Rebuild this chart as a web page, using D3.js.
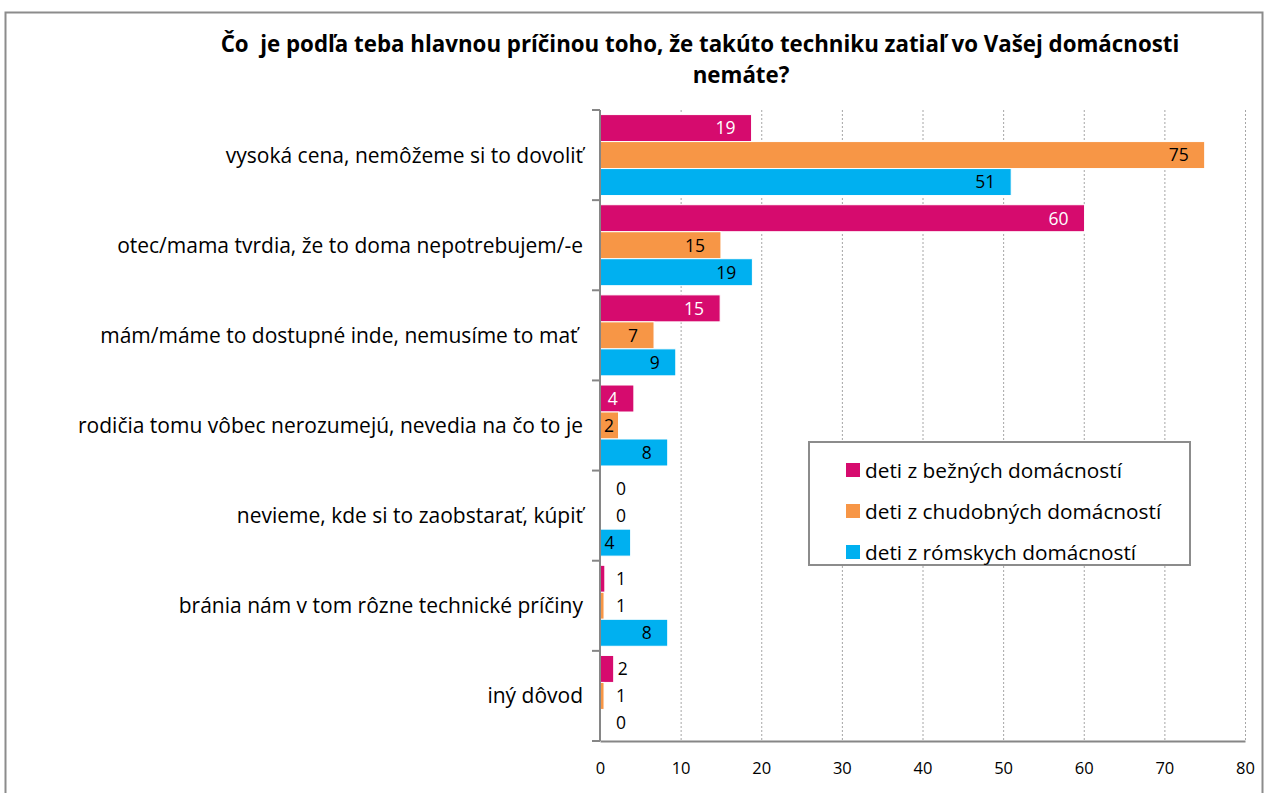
<!DOCTYPE html>
<html>
<head>
<meta charset="utf-8">
<script src="https://cdn.jsdelivr.net/npm/d3@7"></script>
<style>
  body { margin: 0; background: #fff; }
  svg text { font-family: "Open Sans", Lato, sans-serif; fill: #000; white-space: pre; }
</style>
</head>
<body>
<div id="chart"></div>
<script>
const categories = [
  "vysoká cena, nemôžeme si to dovoliť",
  "otec/mama tvrdia, že to doma nepotrebujem/-e",
  "mám/máme to dostupné inde, nemusíme to mať ",
  "rodičia tomu vôbec nerozumejú, nevedia na čo to je",
  "nevieme, kde si to zaobstarať, kúpiť",
  "bránia nám v tom rôzne technické príčiny",
  "iný dôvod"
];
const seriesNames = [
  "deti z bežných domácností",
  "deti z chudobných domácností",
  "deti z rómskych domácností"
];
const bezne    = [18.8, 60.1, 14.9, 4.2, 0, 0.6, 1.7];
const chudobne = [75.0, 15.0, 6.7, 2.3, 0, 0.5, 0.5];
const romske   = [51.0, 18.9, 9.4, 8.4, 3.8, 8.4, 0];
const xTicks = [0, 10, 20, 30, 40, 50, 60, 70, 80];

const colors = ["#d60b6e", "#f79646", "#00b0f0"];
const labelColors = ["#fff", "#000", "#000"];
const series = [bezne, chudobne, romske];

const width = 1269, height = 793;
const margin = { top: 110, right: 24, bottom: 52, left: 600 };

const svg = d3.select("#chart").append("svg")
  .attr("width", width)
  .attr("height", height);

// outer frame
svg.append("rect")
  .attr("x", 5.5).attr("y", 12.5)
  .attr("width", 1257).attr("height", 800)
  .attr("fill", "none")
  .attr("stroke", "#8c8c8c")
  .attr("stroke-width", 2);

// title
const title = svg.append("text")
  .attr("text-anchor", "middle")
  .attr("font-weight", "bold")
  .attr("font-size", 22.3);
title.append("tspan").attr("x", 700).attr("y", 52)
  .text("Čo  je podľa teba hlavnou príčinou toho, že takúto techniku zatiaľ vo Vašej domácnosti");
title.append("tspan").attr("x", 741).attr("y", 83).text("nemáte?");

const x = d3.scaleLinear()
  .domain([0, 80])
  .range([margin.left, width - margin.right]);

const y = d3.scaleBand()
  .domain(categories)
  .range([margin.top, height - margin.bottom])
  .padding(0);

const ySub = d3.scaleBand()
  .domain([0, 1, 2])
  .range([0, y.bandwidth()])
  .paddingInner(0)
  .paddingOuter(0.17);

// grid lines
svg.append("g")
  .selectAll("line")
  .data(xTicks.slice(1))
  .join("line")
  .attr("x1", d => x(d) + 0.5).attr("x2", d => x(d) + 0.5)
  .attr("y1", margin.top).attr("y2", height - margin.bottom)
  .attr("stroke", "#a6a6a6")
  .attr("stroke-width", 1)
  .attr("stroke-dasharray", "2,2");

// bars
const rows = categories.map((c, i) => series.map((s, k) => ({ cat: c, k: k, v: s[i] })));

const groups = svg.append("g")
  .selectAll("g")
  .data(rows)
  .join("g")
  .attr("transform", d => `translate(0,${y(d[0].cat)})`);

groups.selectAll("rect")
  .data(d => d.filter(e => e.v > 0))
  .join("rect")
  .attr("x", x(0))
  .attr("y", d => ySub(d.k))
  .attr("width", d => x(d.v) - x(0))
  .attr("height", ySub.bandwidth())
  .attr("fill", d => colors[d.k])
  .attr("stroke", "#fff")
  .attr("stroke-width", 1);

// value labels
groups.selectAll("text")
  .data(d => d)
  .join("text")
  .attr("font-size", 17.5)
  .attr("y", d => ySub(d.k) + ySub.bandwidth() / 2)
  .attr("dy", "0.36em")
  .each(function (d) {
    const t = d3.select(this);
    const w = x(d.v) - x(0);
    t.text(Math.round(d.v));
    if (w < 16) {
      t.attr("text-anchor", "start")
        .attr("x", Math.max(x(d.v) + 4, x(0) + 16))
        .style("fill", "#000");
    } else {
      const tw = this.getComputedTextLength();
      t.attr("text-anchor", "end")
        .attr("x", Math.max(x(d.v) - 16, x(0) + 4 + tw))
        .style("fill", labelColors[d.k]);
    }
  });

// y axis
const yAxis = svg.append("g")
  .attr("transform", `translate(${margin.left},0)`);
yAxis.append("line")
  .attr("x1", 0).attr("x2", 0)
  .attr("y1", margin.top).attr("y2", height - margin.bottom)
  .attr("stroke", "#868686").attr("stroke-width", 2);
yAxis.selectAll("line.tick")
  .data(d3.range(categories.length + 1))
  .join("line")
  .attr("class", "tick")
  .attr("x1", -8).attr("x2", 0)
  .attr("y1", i => margin.top + i * y.step())
  .attr("y2", i => margin.top + i * y.step())
  .attr("stroke", "#868686").attr("stroke-width", 2);
yAxis.selectAll("text")
  .data(categories)
  .join("text")
  .attr("x", -17)
  .attr("y", d => y(d) + y.bandwidth() / 2)
  .attr("dy", "0.36em")
  .attr("text-anchor", "end")
  .attr("font-size", 21)
  .text(d => d);

// x axis
const xAxis = svg.append("g")
  .attr("transform", `translate(0,${height - margin.bottom})`)
  .call(d3.axisBottom(x).tickValues(xTicks).tickSize(0).tickPadding(21));
xAxis.select(".domain")
  .attr("stroke", "#868686").attr("stroke-width", 2);
xAxis.selectAll("text")
  .attr("font-size", 16.5)
  .attr("font-family", "'Open Sans', sans-serif")
  .attr("fill", "#000");

// legend
const legend = svg.append("g").attr("transform", "translate(809,442)");
legend.append("rect")
  .attr("width", 381).attr("height", 123)
  .attr("fill", "#fff")
  .attr("stroke", "#8c8c8c").attr("stroke-width", 2);
const items = legend.selectAll("g")
  .data(seriesNames)
  .join("g")
  .attr("transform", (d, i) => `translate(37,${21 + i * 41})`);
items.append("rect")
  .attr("width", 14).attr("height", 14)
  .attr("fill", (d, i) => colors[i]);
items.append("text")
  .attr("x", 19).attr("y", 7)
  .attr("dy", "0.36em")
  .attr("font-size", 20.8)
  .text(d => d);
</script>
</body>
</html>
